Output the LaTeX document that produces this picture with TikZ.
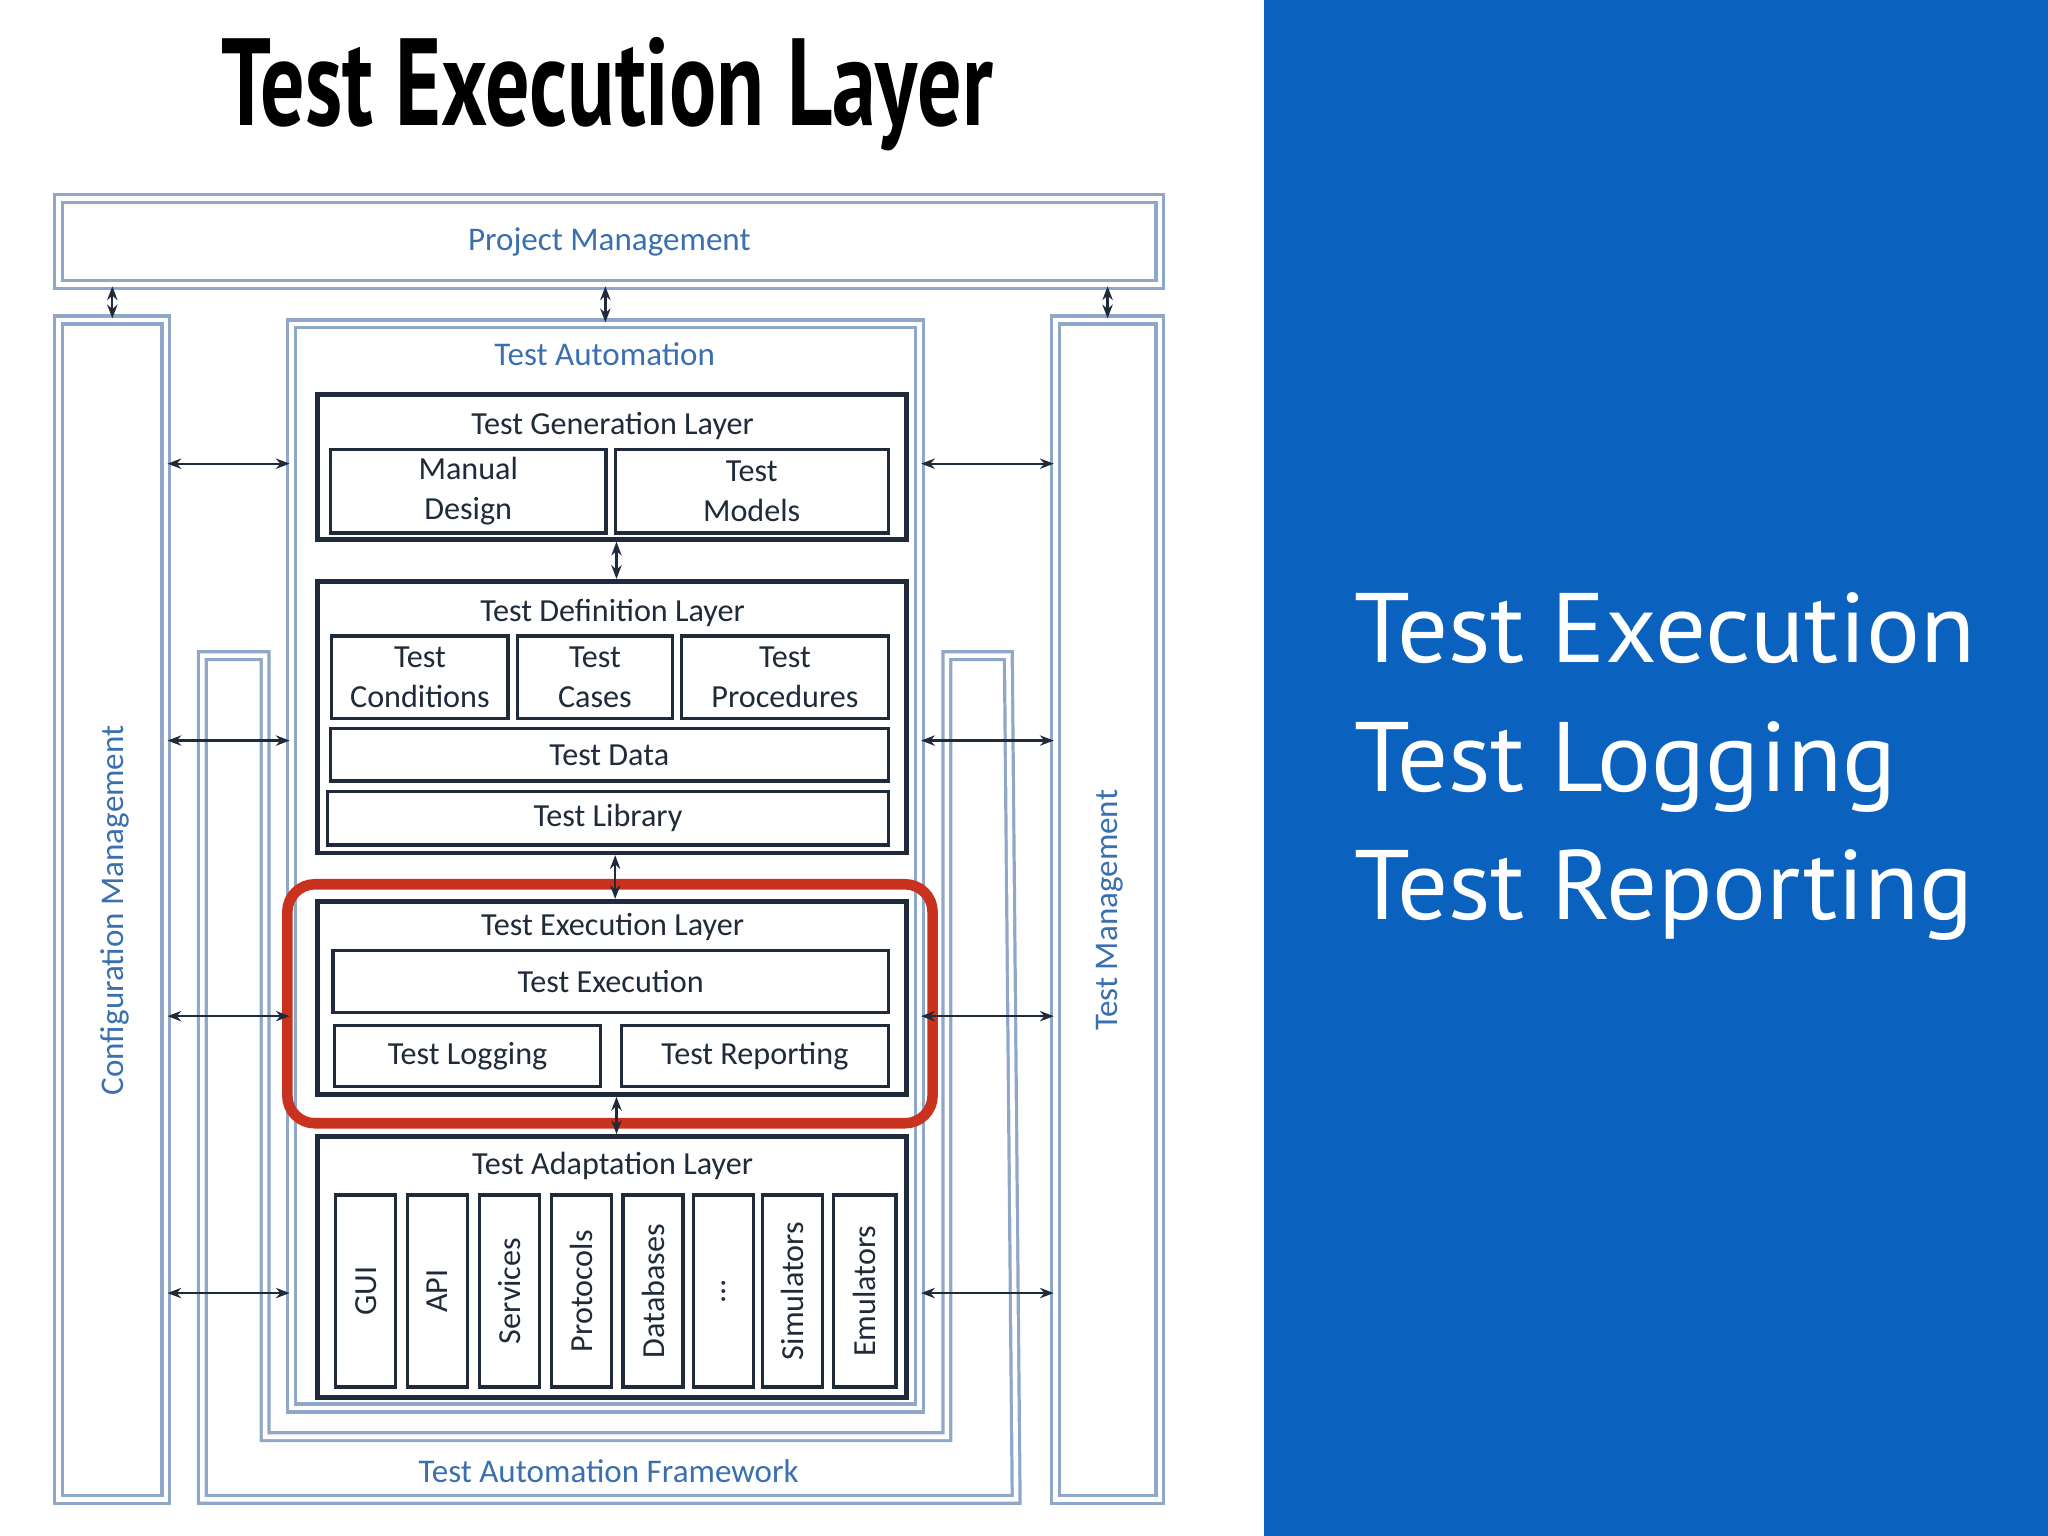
\documentclass[tikz,border=0pt]{standalone}
\usepackage{fontspec}
\setmainfont{Carlito}
\newfontfamily\titlefont{PT Sans}
\usetikzlibrary{fit,arrows.meta}
\definecolor{panel}{HTML}{0A62BE}
\definecolor{dk}{HTML}{1F2A3A}
\definecolor{lb}{HTML}{8FA8C8}
\definecolor{bt}{HTML}{3A6FB0}
\definecolor{rd}{HTML}{C8321E}
\begin{document}
\begin{tikzpicture}[x=0.01cm,y=-0.01cm,
  box/.style={draw=dk,line width=0.7pt,inner sep=0pt,label={[lab]center:{#1}}},
  box/.default={},
  lab/.style={font=\fontsize{7}{8.6}\selectfont,align=center,text=dk},
  lbox/.style={draw=lb,line width=0.7pt,double=white,double distance=1pt,inner sep=0pt},
  ttl/.style={font=\fontsize{7}{8.6}\selectfont,text=dk},
  btxt/.style={font=\fontsize{7.2}{9}\selectfont,text=bt},
  dar/.style={{Stealth[length=3pt]}-{Stealth[length=3pt]},line width=0.5pt,draw=dk}]
\useasboundingbox (0,0) rectangle (1568,1176);
\fill[panel] (968,0) rectangle (1568,1176);
\node[font=\titlefont\bfseries\fontsize{27}{30}\selectfont,xscale=0.71] (title) at (465,72) {Test Execution Layer};
\node[font=\titlefont\fontsize{21.5}{28}\selectfont,text=white,align=left,anchor=west,xscale=1.02] (rt) at (1024,587) {Test Execution\\Test Logging\\Test Reporting};
% light frames
\node[lbox,fit={(45,152)(888,218)}] (pm) {};
\node[btxt] at (pm.center) {Project Management};
\node[lbox,fit={(45,245)(127,1148)}] (cm) {};
\node[btxt,rotate=90] at (88,697) {Configuration Management};
\node[lbox,fit={(808,245)(888,1148)}] (tm) {};
\node[btxt,rotate=90] at (850,697) {Test Management};
\draw[draw=lb,line width=0.7pt,double=white,double distance=1pt] (155,502)--(203,502)--(203,1100)--(725,1100)--(725,502)--(772,502)--(778,1148)--(155,1148)--cycle;
\node[btxt] (taf) at (466,1126) {Test Automation Framework};
\node[lbox,fit={(223,248)(704,1078)}] (ta) {};
\node[btxt] at (463,271) {Test Automation};
% generation
\node[box,line width=1pt,fit={(243,302)(694,413)}] (gen) {};
\node[ttl] at (469,326) {Test Generation Layer};
\node[box={Manual\\Design},fit={(253,344)(464,408)}] (md) {};
\node[box={Test\\Models},fit={(471,344)(680,408)}] (tmod) {};
% definition
\node[box,line width=1pt,fit={(243,445)(694,653)}] (def) {};
\node[ttl] at (469,469) {Test Definition Layer};
\node[box={Test\\Conditions},fit={(254,487)(389,550)}] (tc) {};
\node[box={Test\\Cases},fit={(396,487)(515,550)}] (tcs) {};
\node[box={Test\\Procedures},fit={(522,487)(680,550)}] (tp) {};
\node[box={Test Data},fit={(253,558)(680,598)}] (td) {};
\node[box={Test Library},fit={(251,606)(680,647)}] (tl) {};
% execution
\node[box,line width=1pt,fit={(243,690)(694,838)}] (exe) {};
\node[ttl] at (469,710) {Test Execution Layer};
\node[box={Test Execution},fit={(255,728)(680,775)}] (te) {};
\node[box={Test Logging},fit={(256,785)(460,832)}] (tlog) {};
\node[box={Test Reporting},fit={(476,785)(680,832)}] (trep) {};
% adaptation
\node[box,line width=1pt,fit={(243,870)(694,1070)}] (ada) {};
\node[ttl] at (469,893) {Test Adaptation Layer};
\foreach \a/\b/\t in {257/303/{GUI},312/358/{API},367/413/{Services},422/468/{Protocols},477/523/{Databases},531/577/{\dots},584/630/{Simulators},638/686/{Emulators}}{
  \node[box,fit={(\a,915)(\b,1062)}] (c\a) {};
  \node[ttl,rotate=90] at (c\a.center) {\t};
}
% red highlight
\node[draw=rd,line width=2.3pt,rounded corners=6pt,fit={(220,677)(714,860)},inner sep=0pt] (red) {};
% arrows
\draw[dar] (cm.north |- pm.south) -- (cm.north);
\draw[dar] (pm.south -| ta.north) -- (ta.north);
\draw[dar] (tm.north |- pm.south) -- (tm.north);
\draw[dar] (gen.south -| 472,0) -- (def.north -| 472,0);
\draw[dar] (def.south -| 471,0) -- (exe.north -| 471,0);
\draw[dar] (exe.south -| 472,0) -- (ada.north -| 472,0);
\foreach \y in {355,567,778,990}{
  \draw[dar] (cm.east |- 0,\y) -- (ta.west |- 0,\y);
  \draw[dar] (ta.east |- 0,\y) -- (tm.west |- 0,\y);
}
\end{tikzpicture}
\end{document}
